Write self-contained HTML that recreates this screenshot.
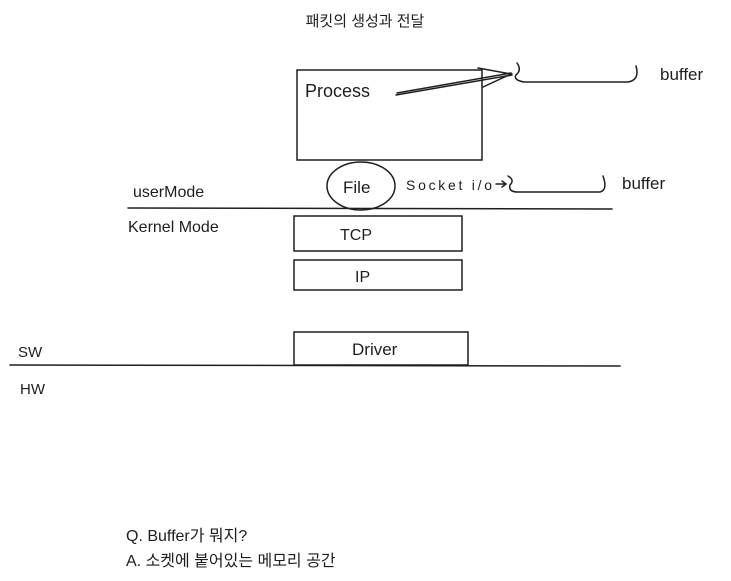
<!DOCTYPE html>
<html><head><meta charset="utf-8"><style>
html,body{margin:0;padding:0;background:#fff;}
svg{display:block;}
text{font-family:"Liberation Sans","Noto Sans CJK KR",sans-serif;fill:#1e1e1e;}
</style></head><body>
<svg width="731" height="581" viewBox="0 0 731 581" xmlns="http://www.w3.org/2000/svg">
<g fill="none" stroke="#1e1e1e" stroke-width="1.5" stroke-linecap="round">
<rect x="297" y="70" width="185" height="90"/>
<path d="M396 95 L512 75"/>
<path d="M397 93 L511 73"/>
<path d="M478 68 L511 74 L483 87"/>
<path d="M517 63 Q522 70 516 75 Q513 80 524 82 L628 82 Q640 80 636 66"/>
<ellipse cx="361" cy="186" rx="34" ry="24"/>
<path d="M508 176 Q515 180 510 185 Q508 192 518 192 L600 192 Q608 190 603 176"/>
<path d="M496 184 L506 184 M502 181 L506 184 L502 187"/>
<line x1="128" y1="208" x2="612" y2="209"/>
<rect x="294" y="216" width="168" height="35"/>
<rect x="294" y="260" width="168" height="30"/>
<rect x="294" y="332" width="174" height="33"/>
<line x1="10" y1="365" x2="620" y2="366"/>
</g>
<text x="365" y="26" font-size="15" text-anchor="middle">패킷의 생성과 전달</text>
<text x="305" y="97" font-size="18">Process</text>
<text x="660" y="80" font-size="17">buffer</text>
<text x="343" y="193" font-size="17">File</text>
<text x="406" y="190" font-size="14" textLength="86" lengthAdjust="spacing">Socket i/o</text>
<text x="622" y="189" font-size="17">buffer</text>
<text x="133" y="197" font-size="16">userMode</text>
<text x="128" y="232" font-size="16">Kernel Mode</text>
<text x="340" y="240" font-size="16">TCP</text>
<text x="355" y="282" font-size="16">IP</text>
<text x="352" y="355" font-size="17">Driver</text>
<text x="18" y="357" font-size="15">SW</text>
<text x="20" y="394" font-size="15">HW</text>
<text x="126" y="541" font-size="16">Q. Buffer가 뭐지?</text>
<text x="126" y="566" font-size="16">A. 소켓에 붙어있는 메모리 공간</text>
</svg>
</body></html>
